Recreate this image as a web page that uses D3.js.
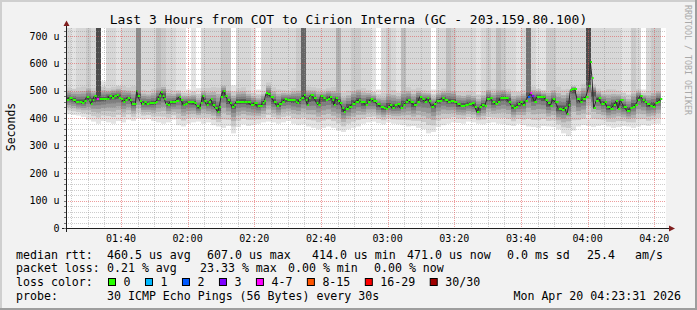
<!DOCTYPE html>
<html>
<head>
<meta charset="utf-8">
<script src="https://cdn.jsdelivr.net/npm/d3@7"></script>
<style>
  html, body { margin: 0; padding: 0; background: #f2f2f2; }
  svg text { font-family: "DejaVu Sans Mono", monospace; }
</style>
</head>
<body>
<svg id="chart"></svg>
<script>
// ---- data ----
const START = new Date(2026, 3, 20, 1, 23, 31);
const END = new Date(2026, 3, 20, 4, 23, 31);

// median rtt readings: minutes after START, microseconds
const medMin = [0, 1, 2, 3, 4, 4.8, 5.5, 6.2, 7, 7.5, 8, 8.5, 9.2, 10, 12.5, 13, 13.8, 14.5, 15.2, 15.8,
  16.5, 17.2, 17.8, 18.5, 19.2, 19.8, 20.8, 21.2, 21.5, 22.2, 22.8, 23.5, 24.2, 25, 26.5, 27, 27.5, 28, 28.5, 29,
  29.5, 30, 30.5, 31.2, 32, 33, 34, 34.5, 35.2, 35.8, 36.5, 37.5, 38.5, 39.2, 40, 40.5, 41, 41.5, 42.2, 42.8,
  43.5, 44, 44.8, 45.5, 46, 46.5, 47.2, 47.8, 48.5, 49.2, 49.8, 50.5, 51, 53.5, 54.5, 55.5, 56.5, 57.5, 58.5, 59,
  59.5, 60, 60.6, 61.4, 62.4, 63.2, 63.9, 64.9, 65.6, 66.4, 68.4, 68.9, 69.4, 69.9, 70.6, 71.4, 71.9, 72.4, 72.9, 73.4,
  74.4, 75.2, 75.7, 76.4, 77.2, 77.9, 78.6, 79.2, 79.9, 80.4, 80.9, 81.6, 82.2, 82.9, 83.4, 83.9, 84.9, 85.9, 86.9, 87.9,
  88.4, 89.1, 89.9, 90.6, 91.4, 92.2, 93.4, 94.4, 95.4, 95.9, 96.6, 97.2, 97.9, 98.6, 99.4, 100.4, 101.2, 101.9, 102.6, 103.4,
  104.4, 105.4, 106.2, 106.9, 107.6, 108.4, 108.9, 109.6, 110.4, 111.2, 112.9, 113.6, 114.6, 115.4, 116.4, 117.4, 118.4, 119.8, 120.8, 121.8,
  122.6, 123.3, 124, 124.8, 125.6, 126.3, 127.3, 128, 128.8, 129.6, 130.3, 132, 132.8, 133.6, 134.3, 135, 135.6, 136.3, 137, 137.8,
  138.6, 139.3, 139.8, 140.5, 141.3, 143.3, 143.8, 144.6, 145.3, 146, 146.8, 147.8, 148.8, 149.6, 150.3, 150.8, 151.3, 151.8, 152.6, 153.3,
  154.3, 155, 156, 156.8, 157.3, 157.8, 158.3, 159, 159.8, 160.6, 161.6, 162.3, 163.3, 164.3, 165, 165.6, 166.3, 167.3, 168.3, 169.3,
  170, 170.8, 171.6, 172.3, 173, 173.6, 174.3, 175.3, 176, 176.8, 177.6, 178.3];
const medRtt = [467, 475, 467, 458, 461, 455, 463, 478, 467, 451, 467, 481, 470, 470, 470, 483, 475, 483, 485, 475,
  470, 461, 467, 475, 467, 452, 452, 501, 481, 463, 451, 458, 452, 455, 455, 461, 470, 483, 497, 483,
  470, 452, 448, 461, 458, 464, 479, 467, 448, 451, 458, 458, 455, 445, 436, 455, 483, 463, 448, 458,
  470, 448, 436, 424, 442, 479, 501, 483, 467, 455, 442, 448, 461, 461, 458, 448, 455, 445, 445, 457,
  464, 491, 487, 479, 461, 445, 452, 461, 469, 467, 467, 461, 455, 467, 473, 485, 467, 448, 475, 485,
  473, 455, 448, 483, 475, 467, 470, 479, 467, 448, 475, 463, 455, 436, 424, 434, 442, 451, 461, 467,
  461, 458, 448, 458, 470, 463, 451, 442, 439, 434, 442, 448, 436, 448, 451, 436, 448, 458, 467, 458,
  448, 458, 479, 470, 461, 473, 463, 442, 451, 463, 473, 467, 461, 463, 461, 451, 445, 448, 452, 455,
  442, 422, 442, 448, 446, 470, 473, 461, 451, 458, 475, 473, 461, 446, 436, 442, 451, 461, 448, 463,
  479, 491, 481, 461, 479, 479, 467, 455, 446, 470, 458, 433, 430, 439, 414, 448, 503, 506, 506, 470,
  458, 470, 479, 518, 607, 546, 436, 463, 475, 451, 458, 442, 434, 448, 463, 434, 467, 442, 427, 436,
  442, 448, 467, 483, 467, 461, 451, 445, 442, 455, 461, 471];

// packet loss at the few steps that had any (minutes after START, lost pings)
const lossMin = [9.2, 138.6, 139.3, 139.8];
const lossCnt = [5, 2, 5, 3];

// smoke, one entry per 1.5 minute bin: lowest ping, top of dense smoke (us),
// and number of pings above the chart top
const BIN = 1.5;
const smokeLo = [415, 412, 410, 405, 395, 388, 380, 390, 385, 380, 390, 385, 395, 390, 400, 395, 398, 390, 385, 380,
  385, 395, 375, 370, 380, 385, 388, 380, 385, 375, 370, 365, 372, 345, 368, 378, 372, 375, 380, 385,
  388, 385, 380, 385, 390, 380, 375, 378, 370, 365, 360, 365, 370, 365, 355, 350, 360, 365, 370, 380,
  385, 388, 382, 378, 385, 380, 378, 375, 370, 372, 365, 360, 345, 350, 368, 375, 380, 385, 383, 380,
  388, 385, 380, 378, 382, 385, 380, 378, 375, 372, 380, 375, 370, 368, 365, 372, 370, 368, 360, 345,
  335, 355, 370, 375, 372, 368, 372, 375, 370, 365, 368, 372, 370, 365, 370, 375, 372, 378, 380];
const smokeHi = [530, 525, 535, 540, 545, 530, 550, 535, 525, 530, 535, 540, 530, 545, 550, 525, 520, 530, 550, 545,
  530, 520, 515, 510, 505, 515, 510, 530, 535, 540, 545, 550, 540, 520, 530, 535, 520, 510, 505, 520,
  550, 535, 530, 520, 515, 530, 540, 555, 535, 530, 530, 520, 525, 535, 545, 520, 525, 540, 545, 535,
  520, 510, 505, 515, 535, 530, 515, 545, 535, 530, 530, 520, 515, 505, 520, 525, 540, 535, 520, 515,
  520, 515, 510, 520, 535, 530, 540, 535, 525, 520, 515, 525, 560, 535, 520, 515, 535, 540, 550, 535,
  530, 525, 530, 550, 620, 540, 525, 520, 535, 530, 520, 515, 510, 535, 520, 505, 520, 535, 530];
const topPings = [2, 1, 2, 2, 3, 2, 13, 0, 2, 2, 1, 2, 2, 2, 8, 2, 2, 2, 4, 3,
  2, 2, 1, 1, 0, 1, 0, 2, 2, 2, 2, 3, 3, 0, 2, 2, 2, 1, 0, 2,
  2, 2, 2, 2, 2, 2, 3, 11, 2, 2, 2, 2, 2, 2, 5, 2, 2, 3, 3, 2,
  2, 1, 0, 2, 3, 2, 1, 4, 2, 2, 2, 2, 2, 0, 2, 2, 4, 3, 2, 2,
  2, 2, 1, 2, 3, 2, 4, 3, 2, 2, 1, 2, 10, 2, 1, 1, 3, 3, 2, 2,
  2, 2, 2, 2, 13, 2, 2, 2, 2, 2, 2, 1, 1, 3, 2, 0, 2, 3, 3];

const yTicks = [0, 100, 200, 300, 400, 500, 600, 700];
const title = "Last 3 Hours from COT to Cirion Interna (GC - 203.159.80.100)";
const rttLegend = ["median rtt:", "460.5 us avg", "607.0 us max", "414.0 us min", "471.0 us now", "0.0 ms sd", "25.4", "am/s"];
const lossLegend = ["packet loss:", "0.21 % avg", "23.33 % max", "0.00 % min", "0.00 % now"];
const lossLabels = ["0", "1", "2", "3", "4-7", "8-15", "16-29", "30/30"];
const lossColors = ["#26ff00", "#00b8ff", "#0059ff", "#7e00ff", "#ff00ff", "#ff5500", "#ff0000", "#a00000"];
const probeLegend = ["probe:", "30 ICMP Echo Pings (56 Bytes) every 30s"];
const stamp = "Mon Apr 20 04:23:31 2026";

// ---- drawing ----
const W = 697, H = 310;
const svg = d3.select("#chart").attr("width", W).attr("height", H);

const x = d3.scaleTime().domain([START, END]).range([66, 666]);
const y = d3.scaleLinear().domain([0, 729.2]).range([228, 28]);
const tAt = m => new Date(+START + m * 60000);
const lossColor = d3.scaleThreshold().domain([1, 2, 3, 4, 8, 16, 30]).range(lossColors);
const grey = p => { const c = Math.round(50 + 190 / 15 * (15 - p)); return d3.rgb(c, c, c).toString(); };

// frame
svg.append("rect").attr("width", W).attr("height", H).attr("fill", "#f2f2f2");
svg.append("path").attr("d", `M0,0H${W}V2H2V${H}H0Z`).attr("fill", "#cfcfcf");
svg.append("path").attr("d", `M${W},0V${H}H0V${H - 2}H${W - 2}V0Z`).attr("fill", "#9e9e9e");

// canvas
svg.append("rect").attr("x", 66).attr("y", 28).attr("width", 600).attr("height", 200).attr("fill", "#fff");

const med = medMin.map((m, i) => ({m, v: medRtt[i]}));
const bins = smokeLo.map((lo, i) => {
  const a = i * BIN, b = a + BIN;
  const inBin = med.filter(d => d.m >= a && d.m < b);
  const mid = inBin.length ? d3.mean(inBin, d => d.v)
    : med[d3.minIndex(med, d => Math.abs(d.m - (a + b) / 2))].v;
  return {i, a, b, lo, hi: Math.min(smokeHi[i], 729), k: topPings[i], mid};
});

const smoke = svg.append("g");
const binX = d => x(tAt(d.a));
const binW = d => x(tAt(d.b)) - x(tAt(d.a));

// columns where some pings went off the chart
smoke.selectAll("rect.top").data(bins.filter(d => d.k > 0)).join("rect")
  .attr("x", binX).attr("width", binW)
  .attr("y", y.range()[1])
  .attr("height", d => y(d.mid) - y.range()[1])
  .attr("fill", d => grey(d.k));

// nested ping pairs, outer (light) to inner (dark); [pair, lower share, upper share]
const pairs = [[1, 0, 0], [3, 0.25, 0.3], [5, 0.45, 0.5], [7, 0.6, 0.62], [9, 0.75, 0.75], [12, 0.9, 0.88]];
pairs.forEach(([p, fl, fu]) => {
  const top = d => p <= d.k ? d.mid : d.hi - (d.hi - d.mid) * fu;
  const bot = d => d.lo + (d.mid - d.lo) * fl;
  smoke.append("g").selectAll("rect").data(bins).join("rect")
    .attr("x", binX).attr("width", binW)
    .attr("y", d => y(top(d)))
    .attr("height", d => Math.max(0, y(bot(d)) - y(top(d))))
    .attr("fill", grey(p));
});

// grid
const grid = svg.append("g").attr("stroke-dasharray", "1,1").attr("stroke-width", 1);
const minorT = d3.timeMinute.every(5).range(START, END).filter(t => t.getMinutes() % 20 !== 0);
const majorT = d3.timeMinute.every(20).range(START, END);
const minorV = d3.range(20, 729, 20).filter(v => v % 100 !== 0);
grid.selectAll("line.mx").data(minorT).join("line")
  .attr("x1", d => Math.round(x(d)) + 0.5).attr("x2", d => Math.round(x(d)) + 0.5)
  .attr("y1", 28).attr("y2", 228).attr("stroke", "rgba(143,143,143,0.45)");
grid.selectAll("line.my").data(minorV).join("line")
  .attr("x1", 66).attr("x2", 666)
  .attr("y1", d => Math.round(y(d)) + 0.5).attr("y2", d => Math.round(y(d)) + 0.5)
  .attr("stroke", "rgba(143,143,143,0.45)");
grid.selectAll("line.Mx").data(majorT).join("line")
  .attr("x1", d => Math.round(x(d)) + 0.5).attr("x2", d => Math.round(x(d)) + 0.5)
  .attr("y1", 28).attr("y2", 228).attr("stroke", "rgba(222,79,79,0.55)");
grid.selectAll("line.My").data(yTicks.slice(1)).join("line")
  .attr("x1", 66).attr("x2", 666)
  .attr("y1", d => Math.round(y(d)) + 0.5).attr("y2", d => Math.round(y(d)) + 0.5)
  .attr("stroke", "rgba(222,79,79,0.55)");

// median: thin dark trace plus a short coloured bar per step
svg.append("path").datum(med)
  .attr("d", d3.line().x(d => x(tAt(d.m))).y(d => y(d.v)))
  .attr("fill", "none").attr("stroke", "#2a2a2a").attr("stroke-width", 1);
const lossOf = m => { const j = lossMin.indexOf(m); return j < 0 ? 0 : lossCnt[j]; };
svg.append("g").selectAll("line").data(med).join("line")
  .attr("x1", d => x(tAt(d.m)))
  .attr("x2", (d, i) => x(tAt(i < med.length - 1 ? med[i + 1].m : d.m + 0.6)))
  .attr("y1", d => Math.round(y(d.v))).attr("y2", d => Math.round(y(d.v)))
  .attr("stroke", d => lossColor(lossOf(d.m))).attr("stroke-width", 2);

// axes
const axisCol = "#1f1f1f", arrowCol = "#801f1f";
svg.append("line").attr("x1", 62).attr("x2", 670).attr("y1", 228.5).attr("y2", 228.5).attr("stroke", axisCol);
svg.append("line").attr("x1", 66.5).attr("x2", 66.5).attr("y1", 232).attr("y2", 24).attr("stroke", axisCol);
svg.append("path").attr("d", "M669,225.5L675,228.5L669,231.5Z").attr("fill", arrowCol);
svg.append("path").attr("d", "M63.5,26L66.5,20.5L69.5,26Z").attr("fill", arrowCol);
svg.append("g").selectAll("line").data(d3.range(0, 729, 20)).join("line")
  .attr("x1", 64).attr("x2", 66)
  .attr("y1", d => Math.round(y(d)) + 0.5).attr("y2", d => Math.round(y(d)) + 0.5)
  .attr("stroke", "#777");

// labels
svg.append("g").selectAll("text").data(yTicks).join("text")
  .attr("x", 59.5).attr("y", d => y(d) + 3.5)
  .attr("text-anchor", "end").attr("font-size", 10)
  .text(d => d === 0 ? "0" : d + " u");
svg.append("g").selectAll("text").data(majorT).join("text")
  .attr("x", d => x(d)).attr("y", 242)
  .attr("text-anchor", "middle").attr("font-size", 10)
  .text(d3.timeFormat("%H:%M"));
svg.append("text").attr("transform", "translate(14.5,127) rotate(-90)")
  .attr("text-anchor", "middle").attr("font-size", 11.5).text("Seconds");
svg.append("text").attr("x", 348.5).attr("y", 24)
  .attr("text-anchor", "middle").attr("font-size", 13).text(title);
svg.append("text").attr("transform", "translate(685,5) rotate(90)")
  .attr("font-size", 8.3).attr("fill", "#a9a9a9").text("RRDTOOL / TOBI OETIKER");

// legend
const FS = 11.6, CW = FS * 0.602;
const legend = svg.append("g").attr("font-size", FS).attr("xml:space", "preserve");
const rttX = [16, 107, 207, 312, 407, 507, 587, 635];
const lossX = [16, 107, 200, 288, 374];
legend.selectAll("text.r").data(rttLegend).join("text")
  .attr("x", (d, i) => rttX[i]).attr("y", 258.5).text(d => d);
legend.selectAll("text.l").data(lossLegend).join("text")
  .attr("x", (d, i) => lossX[i]).attr("y", 272).text(d => d);
legend.append("text").attr("x", 16).attr("y", 285.5).text("loss color:");
let bx = 108.5;
lossLabels.forEach((lab, i) => {
  legend.append("rect").attr("x", bx).attr("y", 278.5).attr("width", 7).attr("height", 7)
    .attr("fill", lossColors[i]).attr("stroke", "#000");
  legend.append("text").attr("x", bx + 15).attr("y", 285.5).text(lab);
  bx += 15 + lab.length * CW + 15;
});
legend.append("text").attr("x", 16).attr("y", 299.5).text(probeLegend[0]);
legend.append("text").attr("x", 107).attr("y", 299.5).text(probeLegend[1]);
legend.append("text").attr("x", 681).attr("y", 299.5).attr("text-anchor", "end").text(stamp);
</script>
</body>
</html>
